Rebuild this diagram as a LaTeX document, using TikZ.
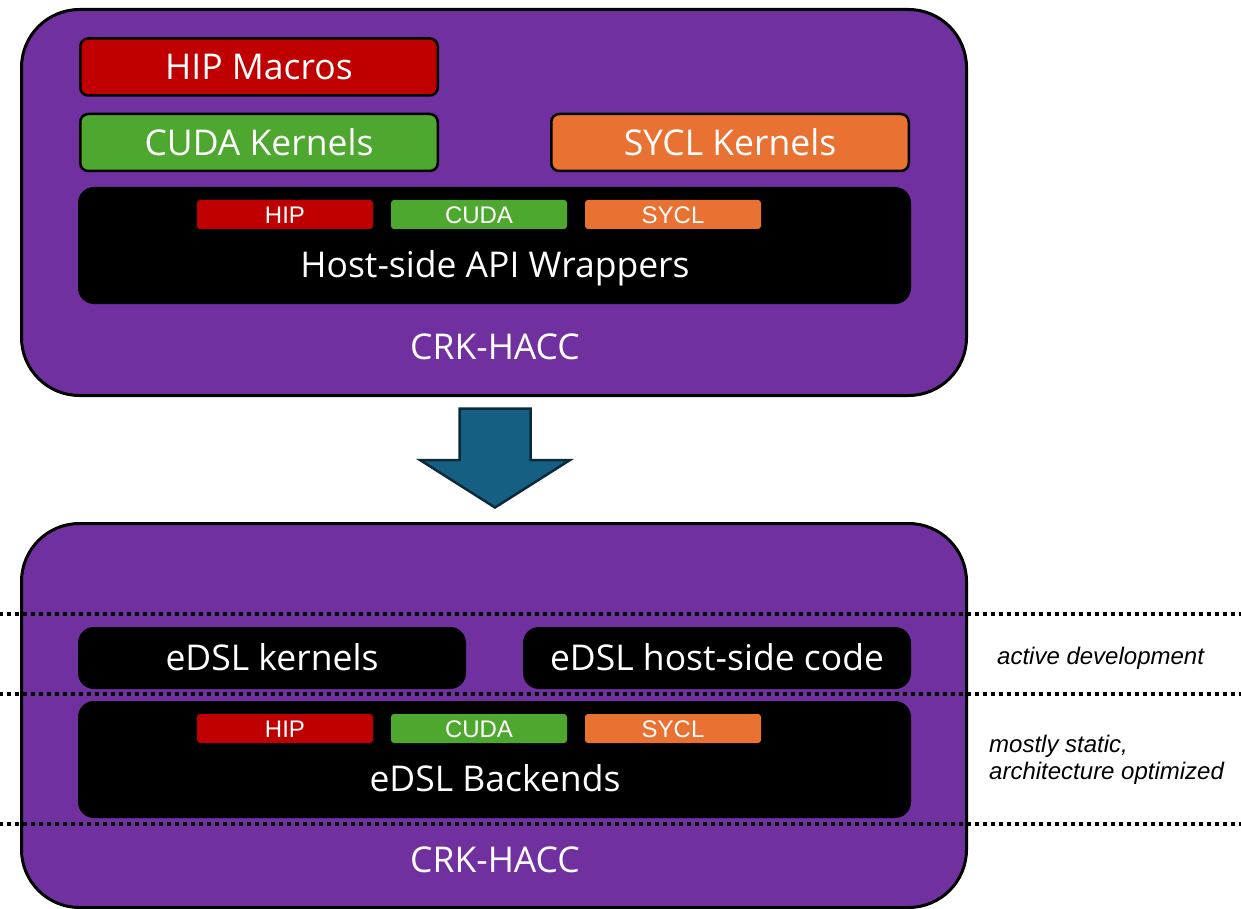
\documentclass[tikz,border=0pt]{standalone}
\usepackage{fontspec}
\setmainfont{Open Sans}
\newfontfamily\arialfont{Liberation Sans}
\definecolor{crkpurple}{HTML}{7030A0}
\definecolor{hipred}{HTML}{C00000}
\definecolor{cudagreen}{HTML}{4EA72E}
\definecolor{syclorange}{HTML}{E97132}
\definecolor{arrowblue}{HTML}{156082}
\definecolor{arrowedge}{HTML}{0B2A3C}
\begin{document}
\begin{tikzpicture}[x=1pt,y=-1pt,
  outerbox/.style={draw=black, line width=3pt, fill=crkpurple, rounded corners=58pt,
    minimum width=945pt, inner sep=0pt},
  kbox/.style={draw=black, line width=2.5pt, rounded corners=8pt, minimum width=357.5pt,
    minimum height=57pt, inner sep=0pt, text=white, font=\fontsize{35.5}{41}\selectfont,
    text height=25.3pt, text depth=0pt},
  blkbox/.style={fill=black, rounded corners=16pt, inner sep=0pt, text=white,
    font=\fontsize{35.5}{41}\selectfont, text height=25.3pt, text depth=0pt},
  lbl/.style={text=white, font=\fontsize{35.5}{41}\selectfont, inner sep=0pt,
    text height=25.3pt, text depth=0pt},
  tagbox/.style={rounded corners=3pt, minimum width=176pt, minimum height=29pt,
    inner sep=0pt, text=white, font=\arialfont\fontsize{24}{28}\selectfont,
    text height=17.2pt, text depth=0pt},
  note/.style={font=\arialfont\itshape\fontsize{24}{27}\selectfont, anchor=base west,
    inner sep=0pt},
  dotline/.style={line width=3.5pt, dash pattern=on 4pt off 4pt, dash phase=1pt},
  bigarrow/.style={draw=arrowedge, line width=2.5pt, fill=arrowblue, line join=miter}
]
\useasboundingbox (0,0) rectangle (1241,909);
\fill[white] (0,0) rectangle (1241,909);

% ---------- top block ----------
\node[outerbox, minimum height=386pt] (topbox) at (494,202.5) {};
\node[kbox, fill=hipred] (hipmac) at (259,67) {HIP Macros};
\node[kbox, fill=cudagreen] (cudak) at (259,142.5) {CUDA Kernels};
\node[kbox, fill=syclorange] (syclk) at (730,142.5) {SYCL Kernels};
\node[blkbox, minimum width=833pt, minimum height=117pt] (hostapi) at (494.5,245.5) {};
\node[tagbox, fill=hipred] (thip1) at (285,214.5) {HIP};
\node[tagbox, fill=cudagreen] (tcuda1) at (479,214.5) {CUDA};
\node[tagbox, fill=syclorange] (tsycl1) at (673,214.5) {SYCL};
\node[lbl] (hostlbl) at (495,264.5) {Host-side API Wrappers};
\node[lbl] (crk1) at (495,347) {CRK-HACC};

% ---------- arrow ----------
\draw[bigarrow] (459.5,408.5) -- (530.5,408.5) -- (530.5,460) -- (570,460)
  -- (495,507.5) -- (420,460) -- (459.5,460) -- cycle;

% ---------- bottom block ----------
\node[outerbox, minimum height=384pt] (botbox) at (494,715.5) {};
\node[blkbox, minimum width=388pt, minimum height=62pt] (edslk) at (272,658) {eDSL kernels};
\node[blkbox, minimum width=388pt, minimum height=62pt] (edslh) at (717,658) {eDSL host-side code};
\node[blkbox, minimum width=833pt, minimum height=117pt] (edslb) at (494.5,759.5) {};
\node[tagbox, fill=hipred] (thip2) at (285,728.5) {HIP};
\node[tagbox, fill=cudagreen] (tcuda2) at (479,728.5) {CUDA};
\node[tagbox, fill=syclorange] (tsycl2) at (673,728.5) {SYCL};
\node[lbl] (backlbl) at (495,778.8) {eDSL Backends};
\node[lbl] (crk2) at (495,859.8) {CRK-HACC};

% ---------- dotted separators ----------
\draw[dotline] (0,614) -- (1241,614);
\draw[dotline] (0,694) -- (1241,694);
\draw[dotline] (0,824) -- (1241,824);

% ---------- notes ----------
\node[note] (nact) at (997,664) {active development};
\node[note] (nstat) at (989,752) {mostly static,};
\node[note] (narch) at (989,779) {architecture optimized};
\end{tikzpicture}
\end{document}
